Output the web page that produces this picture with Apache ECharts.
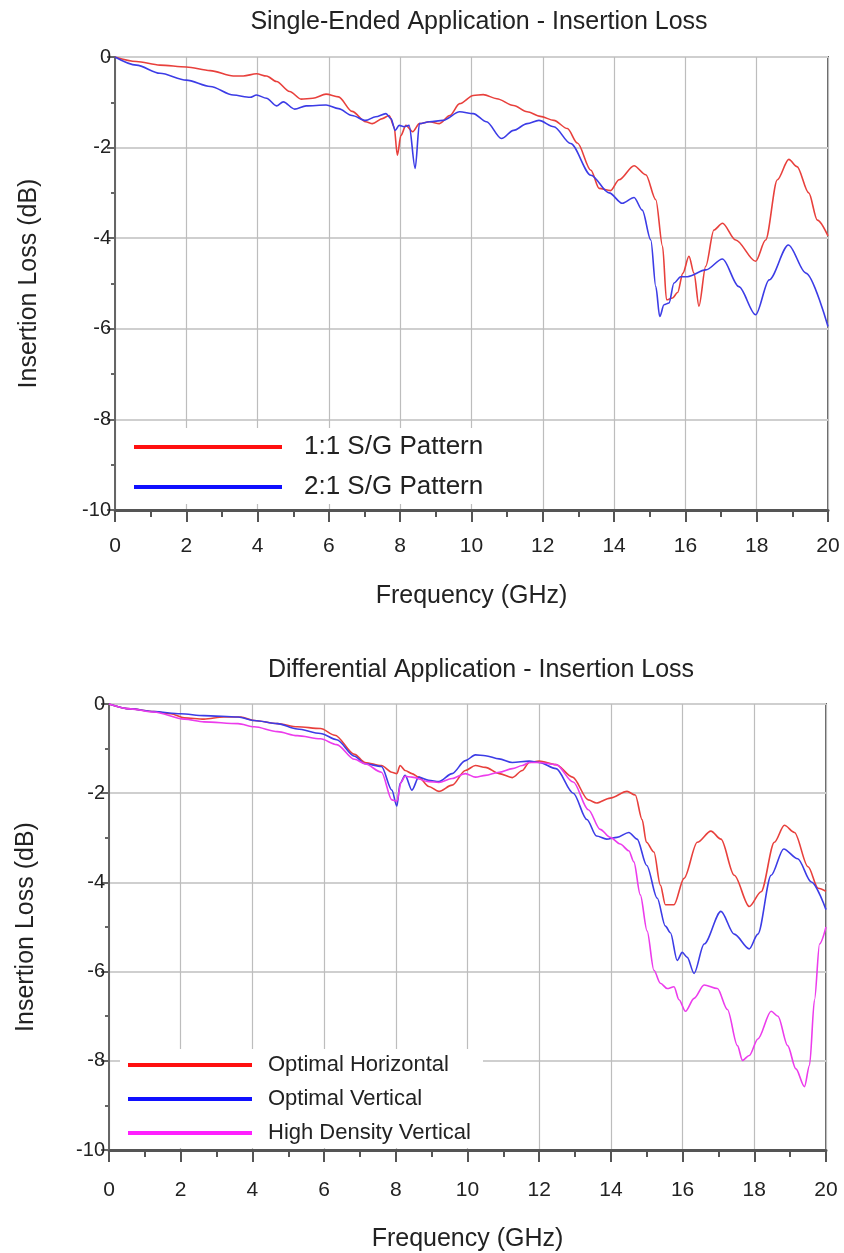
<!DOCTYPE html>
<html>
<head>
<meta charset="utf-8">
<script src="https://cdn.jsdelivr.net/npm/echarts/dist/echarts.min.js"></script>
<style>
  html, body { margin: 0; padding: 0; background: #fff; }
  #chart { width: 844px; height: 1253px; }
</style>
</head>
<body>
<div id="chart"></div>
<script>
// frequency (GHz), insertion loss (dB)
var se11 = [[0,0],[0.6,-0.1],[1.26,-0.18],[2.0,-0.22],[2.67,-0.3],[3.32,-0.42],[3.6,-0.42],[3.97,-0.37],[4.25,-0.42],[4.53,-0.54],[4.9,-0.76],[5.22,-0.93],[5.55,-0.91],[5.92,-0.82],[6.27,-0.88],[6.65,-1.2],[7.03,-1.43],[7.22,-1.47],[7.5,-1.36],[7.69,-1.29],[7.83,-1.54],[7.92,-2.17],[8.02,-1.73],[8.16,-1.51],[8.35,-1.65],[8.54,-1.47],[8.82,-1.43],[9.1,-1.47],[9.39,-1.29],[9.67,-1.03],[10.05,-0.85],[10.33,-0.83],[10.71,-0.92],[11.18,-1.07],[11.56,-1.21],[11.93,-1.31],[12.31,-1.4],[12.69,-1.58],[12.97,-1.9],[13.35,-2.5],[13.58,-2.9],[13.9,-2.95],[14.14,-2.71],[14.56,-2.4],[14.89,-2.6],[15.17,-3.15],[15.36,-4.18],[15.47,-5.36],[15.64,-5.32],[15.78,-5.2],[15.93,-4.77],[16.1,-4.4],[16.24,-4.77],[16.38,-5.5],[16.57,-4.62],[16.8,-3.82],[17.04,-3.67],[17.41,-4.04],[17.97,-4.51],[18.25,-4.04],[18.58,-2.71],[18.9,-2.26],[19.13,-2.42],[19.46,-3.0],[19.7,-3.6],[20,-3.95]];
var se21 = [[0,0],[0.6,-0.18],[1.26,-0.36],[2.0,-0.51],[2.67,-0.65],[3.32,-0.84],[3.79,-0.89],[3.97,-0.84],[4.25,-0.91],[4.53,-1.08],[4.72,-0.99],[5.04,-1.15],[5.36,-1.08],[5.92,-1.06],[6.27,-1.14],[6.65,-1.29],[7.03,-1.4],[7.31,-1.32],[7.6,-1.25],[7.74,-1.36],[7.86,-1.62],[7.97,-1.51],[8.11,-1.54],[8.25,-1.51],[8.42,-2.46],[8.54,-1.47],[8.82,-1.43],[9.2,-1.4],[9.67,-1.21],[10.05,-1.25],[10.42,-1.43],[10.84,-1.8],[11.18,-1.62],[11.56,-1.47],[11.89,-1.4],[12.31,-1.54],[12.78,-1.91],[13.35,-2.61],[13.86,-3.0],[14.23,-3.23],[14.56,-3.1],[14.79,-3.38],[15.03,-4.04],[15.17,-5.07],[15.28,-5.73],[15.4,-5.47],[15.54,-5.43],[15.68,-4.99],[15.87,-4.85],[16.06,-4.85],[16.57,-4.7],[17.04,-4.46],[17.5,-5.07],[17.97,-5.69],[18.35,-4.92],[18.89,-4.15],[19.38,-4.77],[20,-5.95]];

var diffHoriz = [[0,0],[0.6,-0.11],[1.25,-0.17],[1.72,-0.22],[2.1,-0.31],[2.65,-0.34],[3.2,-0.29],[3.68,-0.29],[4.05,-0.37],[4.7,-0.44],[5.25,-0.51],[5.9,-0.55],[6.3,-0.7],[6.85,-1.13],[7.14,-1.31],[7.6,-1.38],[7.89,-1.53],[8.03,-1.56],[8.12,-1.38],[8.26,-1.49],[8.45,-1.56],[8.64,-1.64],[8.92,-1.85],[9.2,-1.96],[9.57,-1.82],[9.94,-1.49],[10.22,-1.38],[10.5,-1.42],[10.88,-1.56],[11.25,-1.65],[11.53,-1.49],[11.72,-1.31],[12.0,-1.28],[12.47,-1.36],[12.93,-1.64],[13.37,-2.15],[13.6,-2.22],[13.98,-2.11],[14.45,-1.96],[14.68,-2.04],[14.87,-2.59],[14.99,-3.1],[15.2,-3.32],[15.38,-4.06],[15.52,-4.5],[15.76,-4.5],[16.04,-3.91],[16.41,-3.1],[16.79,-2.85],[17.07,-3.03],[17.44,-3.84],[17.86,-4.54],[18.19,-4.21],[18.56,-3.1],[18.84,-2.72],[19.12,-2.88],[19.5,-3.65],[19.78,-4.13],[20,-4.2]];
var diffVert = [[0,0],[0.6,-0.11],[1.25,-0.17],[2.0,-0.22],[2.65,-0.26],[3.6,-0.29],[4.05,-0.37],[4.7,-0.44],[5.25,-0.56],[5.9,-0.66],[6.35,-0.8],[6.85,-1.17],[7.14,-1.34],[7.6,-1.4],[7.89,-1.93],[8.03,-2.29],[8.12,-1.78],[8.26,-1.6],[8.45,-1.93],[8.64,-1.64],[8.92,-1.71],[9.2,-1.74],[9.57,-1.56],[9.94,-1.27],[10.22,-1.14],[10.5,-1.16],[10.88,-1.23],[11.25,-1.31],[11.72,-1.28],[12.0,-1.31],[12.47,-1.45],[12.95,-2.0],[13.33,-2.59],[13.6,-2.96],[13.88,-3.03],[14.17,-2.99],[14.5,-2.88],[14.73,-3.03],[15.0,-3.62],[15.29,-4.35],[15.52,-4.98],[15.66,-5.13],[15.85,-5.75],[15.99,-5.57],[16.13,-5.68],[16.32,-6.04],[16.6,-5.38],[17.07,-4.65],[17.44,-5.16],[17.86,-5.49],[18.1,-5.16],[18.47,-3.84],[18.82,-3.25],[19.21,-3.47],[19.59,-3.99],[20,-4.61]];
var diffHD = [[0,0],[0.6,-0.11],[1.25,-0.18],[2.1,-0.34],[2.65,-0.4],[3.6,-0.44],[4.05,-0.51],[4.7,-0.62],[5.25,-0.71],[5.9,-0.78],[6.35,-0.91],[6.85,-1.24],[7.14,-1.34],[7.6,-1.53],[7.89,-2.15],[8.03,-2.18],[8.15,-1.75],[8.26,-1.62],[8.45,-1.64],[8.92,-1.74],[9.2,-1.76],[9.57,-1.67],[9.94,-1.56],[10.22,-1.64],[10.5,-1.6],[10.88,-1.53],[11.25,-1.45],[11.53,-1.38],[11.72,-1.31],[12.0,-1.31],[12.47,-1.36],[12.95,-1.75],[13.37,-2.37],[13.7,-2.81],[13.98,-2.99],[14.26,-3.14],[14.5,-3.29],[14.64,-3.54],[14.82,-4.28],[15.01,-5.09],[15.2,-5.97],[15.38,-6.26],[15.57,-6.38],[15.76,-6.34],[15.9,-6.63],[16.08,-6.89],[16.32,-6.6],[16.6,-6.3],[16.97,-6.38],[17.25,-6.85],[17.53,-7.66],[17.67,-7.99],[17.86,-7.88],[18.1,-7.51],[18.47,-6.89],[18.66,-7.0],[18.93,-7.66],[19.16,-8.18],[19.4,-8.58],[19.54,-8.1],[19.68,-6.63],[19.82,-5.38],[20,-5.0]];

var titles = ['Single-Ended Application - Insertion Loss', 'Differential Application - Insertion Loss'];
var namesTop = ['1:1 S/G Pattern', '2:1 S/G Pattern'];
var namesBottom = ['Optimal Horizontal', 'Optimal Vertical', 'High Density Vertical'];

var font = "'Liberation Sans', Arial, Helvetica, sans-serif";
var chart = echarts.init(document.getElementById('chart'));

function xAxisFor(i, gap, labelMargin) {
    return {
        type: 'value', gridIndex: i, min: 0, max: 20, interval: 2,
        name: 'Frequency (GHz)', nameLocation: 'middle', nameGap: gap,
        nameTextStyle: {fontFamily: font, fontSize: 25, color: '#222'},
        axisLine: {onZero: false, lineStyle: {color: '#555', width: 3}},
        axisTick: {length: 12, lineStyle: {color: '#555', width: 2}},
        minorTick: {show: true, splitNumber: 2, length: 7, lineStyle: {color: '#555', width: 2}},
        axisLabel: {margin: labelMargin, fontFamily: font, fontSize: 21, color: '#222'},
        splitLine: {lineStyle: {color: '#bdbdbd', width: 1.2}}
    };
}
function yAxisFor(i, gap) {
    return {
        type: 'value', gridIndex: i, min: -10, max: 0, interval: 2,
        name: 'Insertion Loss (dB)', nameLocation: 'middle', nameGap: gap,
        nameTextStyle: {fontFamily: font, fontSize: 25, color: '#222'},
        axisLine: {lineStyle: {color: '#666', width: 2}},
        axisTick: {length: 8, lineStyle: {color: '#666', width: 2}},
        minorTick: {show: true, splitNumber: 2, length: 4, lineStyle: {color: '#666', width: 2}},
        axisLabel: {margin: 4, fontFamily: font, fontSize: 20, color: '#222'},
        splitLine: {lineStyle: {color: '#cfcfcf', width: 2}}
    };
}
function line(name, data, color, i) {
    return {
        name: name, type: 'line', data: data, xAxisIndex: i, yAxisIndex: i,
        showSymbol: false, smooth: 0.3, smoothMonotone: 'x',
        lineStyle: {color: color, width: 1.6}, itemStyle: {color: color}, z: 3
    };
}

chart.setOption({
    backgroundColor: '#fff',
    animation: false,
    title: [
        {text: titles[0], left: 474, top: 5, textAlign: 'center',
         textStyle: {fontFamily: font, fontSize: 25, fontWeight: 'normal', color: '#222'}},
        {text: titles[1], left: 476, top: 653, textAlign: 'center',
         textStyle: {fontFamily: font, fontSize: 25, fontWeight: 'normal', color: '#222'}}
    ],
    grid: [
        {left: 115, right: 16, top: 57, height: 453, show: true, borderColor: '#666', borderWidth: 2},
        {left: 109, right: 18, top: 704, height: 454, show: true, borderColor: '#666', borderWidth: 2}
    ],
    xAxis: [xAxisFor(0, 74, 26), xAxisFor(1, 77, 30)],
    yAxis: [yAxisFor(0, 73), yAxisFor(1, 70)],
    legend: [
        {
            left: 124, top: 428, orient: 'vertical', itemGap: 14,
            itemWidth: 148, itemHeight: 4, icon: 'rect',
            backgroundColor: '#fff', padding: [6, 10, 4, 10],
            textStyle: {fontFamily: font, fontSize: 26, color: '#222', padding: [0, 0, 0, 17]},
            data: [
                {name: namesTop[0], itemStyle: {color: '#ff1010'}},
                {name: namesTop[1], itemStyle: {color: '#1010ff'}}
            ]
        },
        {
            left: 120, top: 1049, orient: 'vertical', itemGap: 12,
            itemWidth: 124, itemHeight: 4, icon: 'rect',
            backgroundColor: '#fff', padding: [5, 12, 4, 8],
            textStyle: {fontFamily: font, fontSize: 22, color: '#222', padding: [0, 0, 0, 11]},
            data: [
                {name: namesBottom[0], itemStyle: {color: '#ff1010'}},
                {name: namesBottom[1], itemStyle: {color: '#1010ff'}},
                {name: namesBottom[2], itemStyle: {color: '#ff20ff'}}
            ]
        }
    ],
    series: [
        line(namesTop[0], se11, '#e8403c', 0),
        line(namesTop[1], se21, '#3c3ce6', 0),
        line(namesBottom[0], diffHoriz, '#e8403c', 1),
        line(namesBottom[1], diffVert, '#3c3ce6', 1),
        line(namesBottom[2], diffHD, '#ec3cec', 1)
    ]
});
</script>
</body>
</html>
